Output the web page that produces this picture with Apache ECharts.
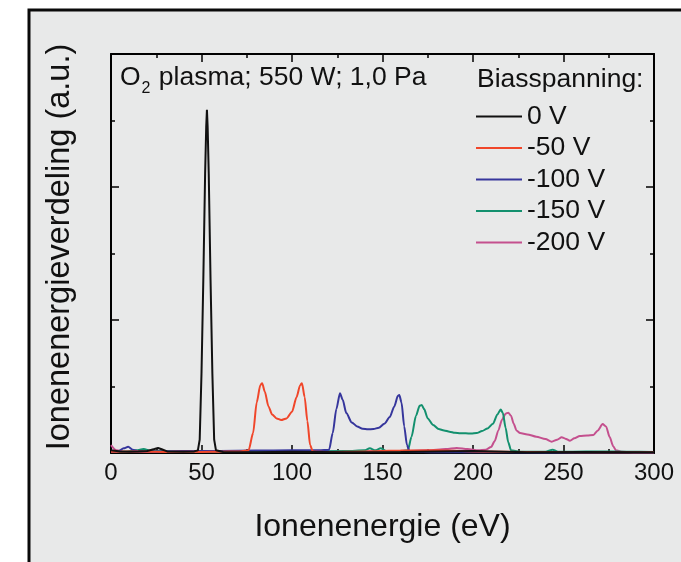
<!DOCTYPE html>
<html>
<head>
<meta charset="utf-8">
<script src="https://cdn.jsdelivr.net/npm/echarts@6/dist/echarts.min.js"></script>
<style>
html,body{margin:0;padding:0;background:#fff;}
#chart{width:681px;height:562px;}
</style>
</head>
<body>
<div id="chart"></div>
<script>
// ---- data ----
const seriesNames = ['0 V', '-50 V', '-100 V', '-150 V', '-200 V'];
const xTicks = [0, 50, 100, 150, 200, 250, 300];

const e0V = [0, 5, 10, 15, 20, 24, 26, 28, 31, 40, 46, 48, 49, 50, 51, 52, 52.6, 53, 53.4, 54, 55, 56, 57, 58, 62, 80, 100, 130, 160, 200, 230, 260, 300];
const v0V = [0.02, 0.012, 0.01, 0.012, 0.015, 0.03, 0.038, 0.028, 0.012, 0.01, 0.012, 0.02, 0.1, 0.6, 1.3, 2.1, 2.45, 2.58, 2.45, 2.1, 1.3, 0.6, 0.1, 0.02, 0.008, 0.006, 0.01, 0.006, 0.008, 0.015, 0.006, 0.008, 0.005];

const e50V = [0, 10, 20, 30, 40, 50, 60, 70, 76, 78.5, 80.5, 82.5, 83.5, 85, 87, 89, 91.5, 94, 97, 100, 102.5, 104.5, 105.5, 107, 108.5, 110, 111.5, 120, 140, 160, 180, 200, 230, 260, 300];
const v50V = [0.01, 0.012, 0.01, 0.008, 0.01, 0.008, 0.01, 0.012, 0.02, 0.15, 0.38, 0.51, 0.525, 0.46, 0.35, 0.29, 0.26, 0.248, 0.26, 0.31, 0.42, 0.51, 0.525, 0.42, 0.24, 0.06, 0.012, 0.008, 0.012, 0.018, 0.02, 0.012, 0.008, 0.006, 0.005];

const e100V = [0, 4, 7, 9.5, 12, 15, 25, 40, 60, 80, 100, 115, 120.5, 122.5, 124.5, 126.5, 128, 130, 133, 136, 139, 142, 145, 148, 151, 154, 156.5, 158.5, 159.3, 160.5, 162, 163.5, 165, 180, 220, 260, 300];
const v100V = [0.01, 0.012, 0.035, 0.047, 0.025, 0.012, 0.012, 0.015, 0.015, 0.018, 0.02, 0.02, 0.025, 0.15, 0.33, 0.449, 0.4, 0.3, 0.23, 0.2, 0.183, 0.178, 0.18, 0.19, 0.22, 0.27, 0.35, 0.43, 0.436, 0.38, 0.2, 0.06, 0.01, 0.006, 0.005, 0.004, 0.004];

const e150V = [0, 8, 14, 18, 22, 40, 70, 100, 130, 140, 143, 146, 149, 152, 160, 164, 166, 168.5, 170.5, 171.7, 173, 175, 178, 181, 184, 187, 190, 193, 196, 199, 202, 205, 208, 211, 213.5, 215.3, 216.5, 218, 219.5, 221, 226, 240, 244, 247, 255, 270, 285, 300];
const v150V = [0.01, 0.012, 0.02, 0.03, 0.015, 0.012, 0.01, 0.012, 0.015, 0.02, 0.035, 0.02, 0.035, 0.015, 0.015, 0.02, 0.12, 0.28, 0.355, 0.361, 0.33, 0.26, 0.21, 0.18, 0.17, 0.16, 0.152, 0.148, 0.148, 0.146, 0.15, 0.165, 0.185, 0.22, 0.29, 0.328, 0.3, 0.19, 0.08, 0.02, 0.01, 0.01, 0.025, 0.01, 0.01, 0.012, 0.01, 0.008];

const e200V = [0, 3, 8, 20, 40, 70, 100, 130, 160, 175, 185, 191, 197, 203, 207, 210, 212, 214, 216, 218, 219.5, 221, 222.5, 224, 226, 230, 235, 240, 243.5, 246.5, 249, 251, 253.6, 256, 259, 263, 266.5, 269, 271.6, 273.5, 275.5, 277.5, 279, 282, 290, 300];
const v200V = [0.06, 0.02, 0.01, 0.008, 0.01, 0.008, 0.01, 0.01, 0.015, 0.02, 0.03, 0.038, 0.03, 0.02, 0.025, 0.045, 0.09, 0.17, 0.25, 0.295, 0.303, 0.28, 0.22, 0.17, 0.15, 0.14, 0.123, 0.105, 0.085, 0.1, 0.118, 0.108, 0.092, 0.11, 0.128, 0.132, 0.136, 0.17, 0.218, 0.2, 0.12, 0.05, 0.02, 0.01, 0.006, 0.005];

const energies = [e0V, e50V, e100V, e150V, e200V];
const values = [v0V, v50V, v100V, v150V, v200V];
const colors = ['#111111', '#f0462a', '#36369c', '#13906e', '#c4508e'];

// ---- chart ----
const FONT = 'Liberation Sans, Arial, sans-serif';
const chart = echarts.init(document.getElementById('chart'), null, {renderer: 'canvas'});

function pairs(xs, ys) { return xs.map((x, i) => [x, ys[i]]); }

const series = seriesNames.map((name, i) => ({
  name: name,
  type: 'line',
  data: pairs(energies[i], values[i]),
  xAxisIndex: 0,
  yAxisIndex: 0,
  showSymbol: false,
  symbol: 'none',
  smooth: i === 0 ? false : 0.25,
  smoothMonotone: 'x',
  lineStyle: {color: colors[i], width: 2},
  itemStyle: {color: colors[i]},
  z: 10 - i,
  animation: false
}));

const axisCommon = {
  type: 'value',
  min: 0,
  axisLine: {show: true, onZero: false, lineStyle: {color: '#000', width: 2}},
  axisTick: {show: true, inside: true, length: 8, lineStyle: {color: '#000', width: 1.5}},
  minorTick: {show: true, splitNumber: 2, length: 4, lineStyle: {color: '#000', width: 1.5}},
  splitLine: {show: false},
  minorSplitLine: {show: false}
};

chart.setOption({
  animation: false,
  backgroundColor: '#ffffff',
  textStyle: {fontFamily: FONT},
  graphic: [
    {
      type: 'rect', z: -10, silent: true,
      shape: {x: 29, y: 10, width: 720, height: 620},
      style: {fill: '#e8e9e9', stroke: '#0a0a0a', lineWidth: 3}
    },
    {
      type: 'text', left: 120, top: 64, z: 20,
      style: {
        text: '{a|O}{s|2}{a| plasma; 550 W; 1,0 Pa}',
        rich: {
          a: {fontSize: 26.5, fontFamily: FONT, fill: '#111', lineHeight: 30, verticalAlign: 'bottom'},
          s: {fontSize: 16, fontFamily: FONT, fill: '#111', lineHeight: 30, verticalAlign: 'bottom', padding: [0, 1, -6, 1]}
        }
      }
    },
    {
      type: 'text', left: 477, top: 66, z: 20,
      style: {text: 'Biasspanning:', fontSize: 26.5, fontFamily: FONT, fill: '#111'}
    }
  ],
  grid: {left: 111, right: 27, top: 54, bottom: 109, show: false},
  legend: {
    orient: 'vertical',
    left: 476,
    top: 103,
    padding: 0,
    icon: 'rect',
    itemWidth: 46,
    itemHeight: 2,
    itemGap: 4.5,
    textStyle: {fontSize: 26.5, fontFamily: FONT, color: '#111', lineHeight: 27},
    data: seriesNames,
    inactiveColor: '#ccc'
  },
  xAxis: [
    Object.assign({}, axisCommon, {
      position: 'bottom', max: 300, interval: 50,
      axisLabel: {show: true, fontSize: 24, color: '#111', margin: 8, fontFamily: FONT},
      name: 'Ionenenergie (eV)',
      nameLocation: 'middle',
      nameGap: 58,
      nameTextStyle: {fontSize: 32, color: '#111', fontFamily: FONT}
    }),
    Object.assign({}, axisCommon, {
      position: 'top', max: 300, interval: 50,
      axisLabel: {show: false}
    })
  ],
  yAxis: [
    Object.assign({}, axisCommon, {
      position: 'left', max: 3, interval: 1,
      axisLabel: {show: false},
      name: 'Ionenenergieverdeling (a.u.)',
      nameLocation: 'middle',
      nameGap: 34,
      nameTextStyle: {fontSize: 32.5, color: '#111', fontFamily: FONT, padding: [0, 0, 0, 13]}
    }),
    Object.assign({}, axisCommon, {
      position: 'right', max: 3, interval: 1,
      axisLabel: {show: false}
    })
  ],
  series: series
});
</script>
</body>
</html>
